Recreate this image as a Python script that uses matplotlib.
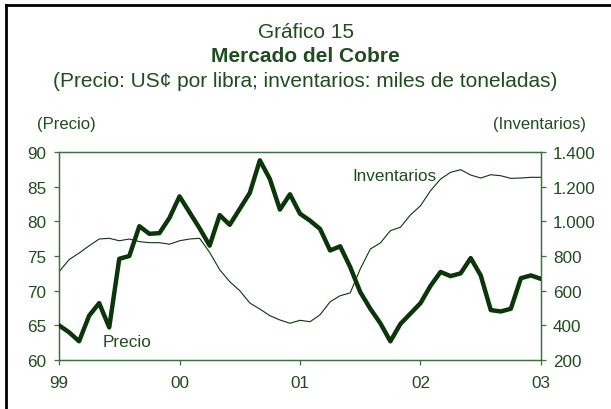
import matplotlib
matplotlib.use("Agg")
import matplotlib.pyplot as plt
from matplotlib.lines import Line2D


# ---------------- DATA ---------------- #

# monthly, Jan 1999 .. Jan 2003
precio = [
    65.0, 64.0, 62.7, 66.4, 68.2, 64.7, 74.6, 75.0, 79.3, 78.2, 78.3, 80.5,
    83.6, 81.3, 79.0, 76.5, 80.9, 79.5, 81.8, 84.1, 88.8, 86.1, 81.7, 83.9,
    81.1, 80.1, 78.9, 75.8, 76.4, 73.4, 69.8, 67.4, 65.3, 62.7, 65.2, 66.7,
    68.2, 70.7, 72.7, 72.1, 72.5, 74.7, 72.2, 67.2, 67.0, 67.4, 71.8, 72.2,
    71.7,
]

inventarios = [
    709, 779, 817, 859, 898, 902, 888, 898, 883, 877, 877, 868,
    888, 898, 902, 821, 721, 652, 600, 529, 494, 456, 431, 412,
    429, 421, 461, 536, 571, 587, 725, 840, 875, 946, 966, 1037,
    1090, 1177, 1244, 1283, 1298, 1267, 1250, 1269, 1263, 1248, 1250, 1254,
    1254,
]

meses = list(range(len(precio)))

year_ticks = [0, 12, 24, 36, 48]
year_labels = ["99", "00", "01", "02", "03"]

precio_ticks = [60, 65, 70, 75, 80, 85, 90]
inv_ticks = [200, 400, 600, 800, 1000, 1200, 1400]


# ---------------- STYLE ---------------- #

plt.rcParams["font.family"] = ["Liberation Sans", "DejaVu Sans"]

text_color = "#1f4d1f"
line_color = "#0a360a"
spine_color = "#3f6f3f"


# ---------------- FIGURE ---------------- #

fig = plt.figure(figsize=(6.11, 4.10), dpi=100)
fig.patch.set_facecolor("white")

ax = fig.add_axes([0.0966, 0.1195, 0.7888, 0.5073])
ax2 = ax.twinx()

ax2.plot(meses, inventarios, color=line_color, linewidth=0.8)
ax.plot(meses, precio, color=line_color, linewidth=3.2,
        solid_joinstyle="round", zorder=5)
ax.set_zorder(ax2.get_zorder() + 1)
ax.patch.set_visible(False)

ax.set_xlim(0, 48)
ax.set_ylim(60, 90)
ax2.set_ylim(200, 1400)

ax.set_xticks(year_ticks)
ax.set_xticklabels(year_labels)
ax.set_yticks(precio_ticks)
ax2.set_yticks(inv_ticks)
ax2.set_yticklabels([f"{v:,}".replace(",", ".") for v in inv_ticks])

for a in (ax, ax2):
    a.tick_params(colors=spine_color, labelcolor=text_color,
                  labelsize=12.3, length=3.5, width=0.9, direction="out")
    for spine in a.spines.values():
        spine.set_color(spine_color)
        spine.set_linewidth(0.9)

ax.tick_params(axis="x", pad=7)
ax.tick_params(axis="y", pad=5.5)
ax2.tick_params(axis="y", pad=5)

# series labels
ax.text(6.8, 62.6, "Precio", color=text_color, fontsize=12.3,
        ha="center", va="center")
ax2.text(33.4, 1267, "Inventarios", color=text_color, fontsize=12.3,
         ha="center", va="center")

# titles
fig.text(0.5, 1 - 32 / 410, "Gráfico 15", color=text_color,
         fontsize=15, ha="center", va="center")
fig.text(0.5, 1 - 57 / 410, "Mercado del Cobre", color=text_color,
         fontsize=15, fontweight="bold", ha="center", va="center")
fig.text(0.5, 1 - 82 / 410,
         "(Precio: US¢ por libra; inventarios: miles de toneladas)",
         color=text_color, fontsize=15, ha="center", va="center")

fig.text(66 / 611, 1 - 124 / 410, "(Precio)", color=text_color,
         fontsize=12, ha="center", va="center")
fig.text(586 / 611, 1 - 124 / 410, "(Inventarios)", color=text_color,
         fontsize=12, ha="right", va="center")

# outer frame (left and top edges visible)
fig.add_artist(Line2D([6 / 611, 6 / 611], [0, 1 - 6 / 410],
                      transform=fig.transFigure, color="black", linewidth=2))
fig.add_artist(Line2D([6 / 611, 1], [1 - 6 / 410, 1 - 6 / 410],
                      transform=fig.transFigure, color="black", linewidth=2))

fig.savefig("out.png", dpi=100)
